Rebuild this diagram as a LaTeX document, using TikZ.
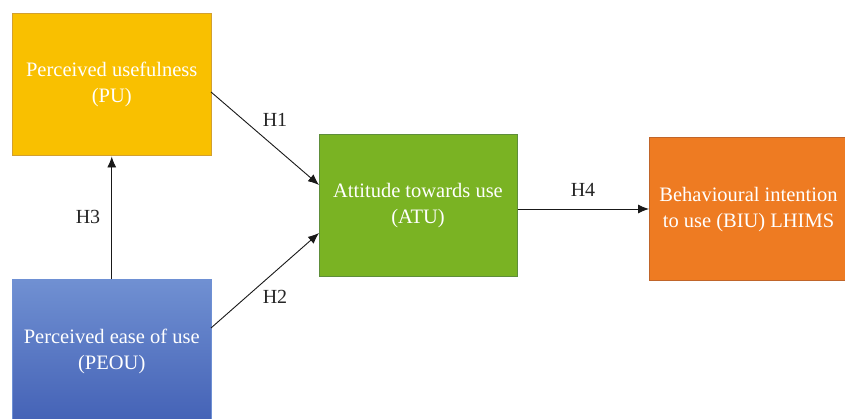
\documentclass[tikz,border=0pt]{standalone}
\usepackage{fontspec}
\setmainfont{Liberation Serif}
\usetikzlibrary{arrows.meta}
\definecolor{puFill}{HTML}{F9C000}
\definecolor{puDraw}{HTML}{D2A030}
\definecolor{atuFill}{HTML}{7AB323}
\definecolor{atuDraw}{HTML}{5E8E3A}
\definecolor{biuFill}{HTML}{EE7B22}
\definecolor{biuDraw}{HTML}{C0652A}
\definecolor{peTop}{HTML}{7090D2}
\definecolor{peBot}{HTML}{4462B6}
\definecolor{peDraw}{HTML}{6E90D4}
\tikzset{
  box/.style={rectangle, line width=1pt, inner sep=0pt, align=center,
    text=white, font=\fontsize{20.5}{26}\selectfont},
  lbl/.style={font=\fontsize{20}{24}\selectfont, text=black!85},
  conn/.style={line width=0.9pt, draw=black!90, -{Latex[length=11pt,width=9pt]}}
}
\begin{document}
\begin{tikzpicture}[x=1pt,y=1pt]
\useasboundingbox (0,0) rectangle (845,419);
\fill[white] (0,0) rectangle (845,419);
\node[box, fill=puFill, draw=puDraw, minimum width=198.5pt, minimum height=142.5pt] (pu) at (111.75,334.25) {Perceived usefulness\\(PU)};
\node[box, top color=peTop, bottom color=peBot, draw=peDraw, minimum width=198.5pt, minimum height=142pt] (peou) at (111.75,68) {Perceived ease of use\\(PEOU)};
\node[box, fill=atuFill, draw=atuDraw, minimum width=198pt, minimum height=142pt] (atu) at (418,213) {Attitude towards use\\(ATU)};
\node[box, fill=biuFill, draw=biuDraw, minimum width=198pt, minimum height=143pt] (biu) at (748.5,209.5) {Behavioural intention\\to use (BIU) LHIMS};
\coordinate (puR) at (211,327);
\coordinate (peR) at (211,91);
\coordinate (atuA) at (319,234);
\coordinate (atuB) at (319,186);
\draw[conn] (puR) -- (atuA);
\draw[conn] (peR) -- (atuB);
\draw[conn] (peou.north) -- (pu.south);
\draw[conn] (atu.east |- 0,210) -- (biu.west |- 0,210);
\node[lbl] (h1) at (275,299) {H1};
\node[lbl] (h2) at (275,122) {H2};
\node[lbl] (h3) at (88,202) {H3};
\node[lbl] (h4) at (583,229) {H4};
\end{tikzpicture}
\end{document}
